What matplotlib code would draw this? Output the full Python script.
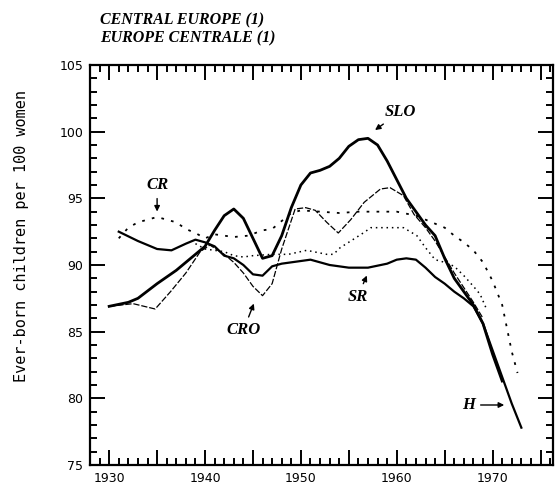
import matplotlib
matplotlib.use("Agg")
import matplotlib.pyplot as plt
from matplotlib.ticker import MultipleLocator

# cohort years and ever-born children per 100 women
slo_years = [1930, 1932, 1933, 1935, 1937, 1939, 1940, 1941, 1942, 1943, 1944, 1945, 1946,
             1947, 1948, 1949, 1950, 1951, 1952, 1953, 1954, 1955, 1956, 1957, 1958, 1959,
             1960, 1961, 1962, 1963, 1964, 1965, 1966, 1967, 1968, 1969, 1970, 1971]
slo_values = [86.9, 87.2, 87.5, 88.6, 89.6, 90.8, 91.4, 92.6, 93.7, 94.2, 93.5, 92.0, 90.5,
              90.7, 92.2, 94.3, 96.0, 96.9, 97.1, 97.4, 98.0, 98.9, 99.4, 99.5, 99.0, 97.8,
              96.4, 95.0, 94.0, 93.0, 92.2, 90.5, 89.0, 88.0, 87.0, 85.6, 83.3, 81.3]

sr_years = [1931, 1933, 1935, 1936.5, 1938, 1939, 1940, 1941, 1942, 1943, 1944, 1945, 1946,
            1947, 1948, 1950, 1951, 1953, 1955, 1957, 1959, 1960, 1961, 1962, 1963, 1964,
            1965, 1966, 1967, 1968, 1969, 1970, 1971, 1972, 1973]
sr_values = [92.5, 91.8, 91.2, 91.1, 91.6, 91.9, 91.7, 91.4, 90.7, 90.5, 90.0, 89.3, 89.2,
             89.9, 90.1, 90.3, 90.4, 90.0, 89.8, 89.8, 90.1, 90.4, 90.5, 90.4, 89.8, 89.1,
             88.6, 88.0, 87.5, 86.9, 85.6, 83.6, 81.6, 79.6, 77.8]

cr_years = [1931, 1932, 1933, 1934, 1935, 1936, 1937, 1938, 1939, 1940, 1941, 1943, 1944.5,
            1946, 1947, 1948, 1949, 1950, 1952, 1954, 1956, 1958, 1960, 1962, 1964, 1965,
            1966, 1967, 1968, 1969, 1970, 1971, 1972, 1972.6]
cr_values = [92.0, 92.8, 93.2, 93.4, 93.6, 93.4, 93.2, 92.7, 92.4, 92.0, 92.3, 92.1, 92.2,
             92.6, 92.7, 93.3, 93.9, 94.1, 94.0, 93.9, 94.0, 94.0, 94.0, 93.7, 93.1, 92.8,
             92.2, 91.7, 91.1, 90.2, 88.8, 87.0, 83.5, 81.9]

cro_years = [1930, 1932.5, 1934.8, 1936.4, 1938, 1939.5, 1940.5, 1942, 1943, 1944, 1945, 1946,
             1947, 1948, 1949.4, 1950.5, 1951.5, 1952.7, 1953.9, 1955.2, 1956.6, 1958.3,
             1959.3, 1960.7, 1961.8, 1963, 1964, 1965, 1966, 1967, 1968, 1969]
cro_values = [86.9, 87.1, 86.7, 88.0, 89.4, 91.0, 91.5, 90.8, 90.2, 89.4, 88.4, 87.7,
              88.6, 91.2, 94.2, 94.3, 94.1, 93.2, 92.4, 93.4, 94.7, 95.7,
              95.8, 95.2, 93.8, 92.8, 91.8, 90.6, 89.4, 88.3, 87.2, 86.0]

h_years = [1939, 1940, 1942, 1943, 1944, 1945, 1947, 1948.7, 1950.6, 1952.7, 1953.4, 1954.1,
           1955.2, 1956.5, 1957.3, 1959.7, 1960.7, 1962.1, 1963, 1964, 1965, 1966, 1967,
           1968, 1968.7, 1969.3]
h_values = [91.6, 91.2, 91.0, 90.7, 90.6, 90.7, 90.8, 90.8, 91.1, 90.8, 90.8, 91.3,
            91.8, 92.4, 92.8, 92.8, 92.8, 92.2, 91.3, 90.4, 90.2, 89.9, 89.2, 88.4,
            87.8, 86.8]

fig = plt.figure(figsize=(5.6, 4.97), dpi=100)
ax = fig.add_axes([0.1607, 0.0644, 0.8268, 0.8048])

ax.plot(slo_years, slo_values, color='black', lw=2.0)
ax.plot(sr_years, sr_values, color='black', lw=1.6)
ax.plot(cr_years, cr_values, color='black', lw=1.3, linestyle=(0, (1.5, 4)))
ax.plot(cro_years, cro_values, color='black', lw=0.9, linestyle=(0, (5, 1.5)))
ax.plot(h_years, h_values, color='black', lw=1.1, linestyle=(0, (1, 2.5)))

ax.set_xlim(1928, 1976.3)
ax.set_ylim(75, 105)
ax.xaxis.set_major_locator(MultipleLocator(5))
ax.xaxis.set_minor_locator(MultipleLocator(1))
ax.yaxis.set_major_locator(MultipleLocator(5))
ax.yaxis.set_minor_locator(MultipleLocator(1))
ax.set_xticks([1930, 1935, 1940, 1945, 1950, 1955, 1960, 1965, 1970, 1975])
ax.set_xticklabels(['1930', '', '1940', '', '1950', '', '1960', '', '1970', ''])
ax.tick_params(which='both', direction='in', top=True, right=True, labelsize=9,
               width=1.4, colors='black')
ax.tick_params(which='major', length=11, pad=5)
ax.tick_params(which='minor', length=5)
for s in ax.spines.values():
    s.set_linewidth(1.6)

fig.text(22 / 560, 1 - 236 / 497, 'Ever-born children per 100 women', rotation=90,
         family='DejaVu Sans Mono', fontsize=11, ha='center', va='center')

lab = dict(family='Liberation Serif', weight='bold', style='italic', fontsize=12)
arr = dict(arrowstyle='-|>', color='black', lw=1.0, mutation_scale=8)
ax.annotate('CR', xy=(1935.0, 93.8), xytext=(1935.0, 96.0), ha='center', va='center',
            arrowprops=arr, **lab)
ax.annotate('SLO', xy=(1957.5, 100.0), xytext=(1960.4, 101.5), ha='center', va='center',
            arrowprops=arr, **lab)
ax.annotate('CRO', xy=(1945.2, 87.3), xytext=(1944.0, 85.1), ha='center', va='center',
            arrowprops=arr, **lab)
ax.annotate('SR', xy=(1957.0, 89.4), xytext=(1955.9, 87.6), ha='center', va='center',
            arrowprops=arr, **lab)
ax.annotate('H', xy=(1971.5, 79.5), xytext=(1967.5, 79.5), ha='center', va='center',
            arrowprops=arr, **lab)

fig.text(0.178, 0.958, 'CENTRAL EUROPE (1)', family='Liberation Serif', weight='bold',
         style='italic', fontsize=11.5, va='center')
fig.text(0.178, 0.923, 'EUROPE CENTRALE (1)', family='Liberation Serif', weight='bold',
         style='italic', fontsize=11.5, va='center')

fig.savefig('out.png', dpi=100)
